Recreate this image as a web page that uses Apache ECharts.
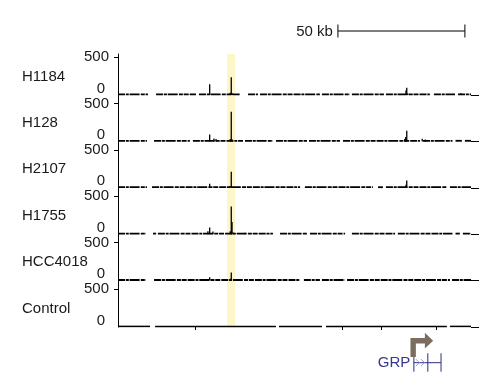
<!DOCTYPE html>
<html><head><meta charset="utf-8">
<script src="https://cdn.jsdelivr.net/npm/echarts@6/dist/echarts.min.js"></script>
<style>html,body{margin:0;padding:0;background:#fff}#c{width:484px;height:391px}</style>
</head><body><div id="c"></div>
<script>
// ---------------- data ----------------
const tracks = ['H1184', 'H128', 'H2107', 'H1755', 'HCC4018', 'Control'];
const yTickValues = [0, 500];
const xRangeKb = [0, 139];
const highlightKb = [42.9, 46.1];
const scaleBarKb = [86.6, 50];          // start, length
const scaleBarLabel = '50 kb';
const geneName = 'GRP';
const geneStartKb = 116.5;
const geneEndKb = 127.2;
const geneBoundsKb = [116.5, 122.0, 127.2];
const geneChevronsKb = [118.1, 120.1];
const controlTicksKb = [30.3, 88.2, 103.5, 125.2];

// peaks: [position kb, signal]
const peaksH1184 = [[36.1, 140], [44.2, 28], [44.6, 233], [45.0, 22], [113.4, 60], [113.7, 96], [114.1, 20], [135.0, 22]];
const peaksH128 = [[36.1, 92], [37.8, 38], [38.6, 30], [44.2, 30], [44.6, 390], [45.0, 26], [112.9, 30], [113.3, 57], [113.7, 140], [119.8, 35], [121.0, 25]];
const peaksH2107 = [[36.1, 53], [44.2, 25], [44.6, 210], [113.4, 40], [113.7, 96]];
const peaksH1755 = [[35.4, 40], [36.1, 88], [37.4, 35], [44.2, 40], [44.6, 364], [44.9, 160], [45.3, 22], [50.0, 18]];
const peaksHCC4018 = [[36.1, 45], [44.3, 25], [44.6, 105]];
const peaksControl = [];

// gaps in the baseline signal: [from kb, to kb]
const gapsH1184 = [[11.8, 15.0], [30.7, 31.9], [48.0, 51.2], [55.1, 55.9], [79.5, 80.3], [91.3, 92.1], [104.7, 105.5], [122.8, 124.4], [132.7, 133.9]];
const gapsH128 = [[11.4, 14.2], [28.3, 29.5], [49.2, 50.0], [61.0, 62.2], [74.4, 75.2], [87.4, 88.6], [118.9, 120.1], [131.7, 132.9], [135.4, 136.6]];
const gapsH2107 = [[11.4, 13.4], [71.7, 73.6], [100.4, 102.4], [104.3, 105.5], [129.5, 130.7]];
const gapsH1755 = [[11.0, 13.8], [15.0, 15.7], [61.0, 63.8], [74.4, 75.6], [89.4, 92.1], [109.1, 110.2], [131.7, 132.9], [134.6, 135.8]];
const gapsHCC4018 = [[11.0, 14.2], [71.7, 73.2], [79.5, 80.3], [89.4, 90.2], [130.7, 131.5]];
const gapsControl = [[12.6, 14.6], [62.2, 63.4], [80.3, 81.9], [129.5, 130.7]];

const peaks = [peaksH1184, peaksH128, peaksH2107, peaksH1755, peaksHCC4018, peaksControl];
const gaps = [gapsH1184, gapsH128, gapsH2107, gapsH1755, gapsHCC4018, gapsControl];

// ---------------- layout / style ----------------
const FONT = "'Liberation Sans', Arial, sans-serif";
const FS = 15;
const TXT = '#1a1a1a';
const LEFT = 118, RIGHT = 13;
const firstBase = 95, step = 46.4, px500 = 38, firstTop = 54;

function segmentsFrom(g) {
  const segs = [];
  let cur = xRangeKb[0];
  g.forEach(([a, b]) => { if (a > cur) segs.push([cur, a]); cur = b; });
  if (cur < xRangeKb[1]) segs.push([cur, xRangeKb[1]]);
  return segs;
}

const grid = [], xAxis = [], yAxis = [], series = [];
tracks.forEach((name, i) => {
  const base = firstBase + step * i;
  const top = i === 0 ? firstTop : firstBase + step * (i - 1);
  const h = base - top;
  const ymax = 500 * h / px500;
  grid.push({ left: LEFT, right: RIGHT, top: top, height: h });
  const isCtl = name === 'Control';
  xAxis.push({
    gridIndex: i, type: 'value', min: xRangeKb[0], max: xRangeKb[1],
    axisLine: { show: false }, splitLine: { show: false }, axisLabel: { show: false },
    axisTick: isCtl ? { show: true, customValues: controlTicksKb, length: 3, lineStyle: { color: '#000', width: 1 } } : { show: false }
  });
  yAxis.push({
    gridIndex: i, type: 'value', min: 0, max: ymax,
    axisLine: { show: true, lineStyle: { color: '#000', width: 1 } },
    axisTick: { show: true, customValues: [500], length: 4, lineStyle: { color: '#000', width: 1 } },
    splitLine: { show: false },
    axisLabel: {
      customValues: yTickValues, margin: 9,
      formatter: v => v === 0 ? '{z|0}' : '{f|' + v + '}',
      rich: {
        z: { fontSize: FS, fontFamily: FONT, color: TXT, padding: [0, 4, 13, 0] },
        f: { fontSize: FS, fontFamily: FONT, color: TXT }
      }
    }
  });
  yAxis.push({
    gridIndex: i, type: 'value', min: 0, max: ymax,
    axisLine: { show: false }, splitLine: { show: false }, axisLabel: { show: false },
    axisTick: { show: true, customValues: [0], length: 8, lineStyle: { color: '#000', width: 1 } }
  });
  // highlight band
  series.push({
    type: 'custom', xAxisIndex: i, yAxisIndex: 2 * i, z: 1, silent: true,
    data: [highlightKb],
    renderItem: (params, api) => {
      const p1 = api.coord([api.value(0), ymax]);
      const p2 = api.coord([api.value(1), 0]);
      return { type: 'rect', shape: { x: p1[0], y: p1[1], width: p2[0] - p1[0], height: p2[1] - p1[1] },
        style: { fill: '#fcf6c9' } };
    }
  });
  // track name, vertically centred on the 0..500 range
  series.push({
    type: 'custom', xAxisIndex: i, yAxisIndex: 2 * i, z: 5, silent: true, clip: false,
    data: [[xRangeKb[0], 250]],
    renderItem: (params, api) => {
      const p = api.coord([api.value(0), api.value(1)]);
      return { type: 'text', x: p[0] - 96, y: p[1] + 0.5,
        style: { text: name, align: 'left', verticalAlign: 'middle', fontSize: FS, fontFamily: FONT, fill: TXT } };
    }
  });
  // baseline signal
  series.push({
    type: 'custom', xAxisIndex: i, yAxisIndex: 2 * i, z: 3, silent: true, clip: false,
    data: segmentsFrom(gaps[i]),
    renderItem: (params, api) => {
      const p1 = api.coord([api.value(0), 0]);
      const p2 = api.coord([api.value(1), 0]);
      return { type: 'line', shape: { x1: p1[0], y1: p1[1] - 0.6, x2: p2[0], y2: p2[1] - 0.6 },
        style: { stroke: '#000', lineWidth: isCtl ? 1.5 : 1.8, lineDash: isCtl ? null : [7, 0.8, 3, 0.8, 10, 1.2, 4, 0.8, 5, 1] } };
    }
  });
  // peaks
  series.push({
    type: 'bar', xAxisIndex: i, yAxisIndex: 2 * i, z: 4, silent: true,
    barWidth: 1.3, data: peaks[i], itemStyle: { color: '#000' }
  });
});

// scale bar grid
grid.push({ left: LEFT, right: RIGHT, top: 20, height: 22 });
xAxis.push({ gridIndex: 6, type: 'value', min: xRangeKb[0], max: xRangeKb[1], show: false });
yAxis.push({ gridIndex: 6, type: 'value', min: -1, max: 1, show: false });
series.push({
  type: 'custom', xAxisIndex: 6, yAxisIndex: yAxis.length - 1, silent: true, clip: false,
  data: [scaleBarKb],
  renderItem: (params, api) => {
    const s = api.value(0), l = api.value(1);
    const p1 = api.coord([s, 0]), p2 = api.coord([s + l, 0]);
    const st = { stroke: '#000', lineWidth: 1 };
    return { type: 'group', children: [
      { type: 'line', shape: { x1: p1[0], y1: p1[1], x2: p2[0], y2: p2[1] }, style: st },
      { type: 'line', shape: { x1: p1[0], y1: p1[1] - 6.5, x2: p1[0], y2: p1[1] + 6.5 }, style: st },
      { type: 'line', shape: { x1: p2[0], y1: p2[1] - 6.5, x2: p2[0], y2: p2[1] + 6.5 }, style: st },
      { type: 'text', x: p1[0] - 5, y: p1[1] + 0.5, style: { text: scaleBarLabel, align: 'right', verticalAlign: 'middle',
        fontSize: FS, fontFamily: FONT, fill: TXT } }
    ] };
  }
});

// gene annotation grid
grid.push({ left: LEFT, right: RIGHT, top: 342.7, height: 40 });
xAxis.push({ gridIndex: 7, type: 'value', min: xRangeKb[0], max: xRangeKb[1], show: false });
yAxis.push({ gridIndex: 7, type: 'value', min: -1, max: 1, show: false });
series.push({
  type: 'custom', xAxisIndex: 7, yAxisIndex: yAxis.length - 1, silent: true, clip: false,
  data: [[geneStartKb, geneEndKb]],
  renderItem: (params, api) => {
    const a = api.coord([api.value(0), 0]), b = api.coord([api.value(1), 0]);
    const y0 = a[1], xs = a[0];
    const navy = '#2d2d80';
    const children = [
      { type: 'line', shape: { x1: a[0], y1: y0, x2: b[0], y2: y0 }, style: { stroke: navy, lineWidth: 1 } }
    ];
    geneBoundsKb.forEach(v => {
      const p = api.coord([v, 0]);
      children.push({ type: 'line', shape: { x1: p[0], y1: y0 - 9.5, x2: p[0], y2: y0 + 9 }, style: { stroke: navy, lineWidth: 1 } });
    });
    geneChevronsKb.forEach(v => {
      const p = api.coord([v, 0]);
      children.push({ type: 'polyline', shape: { points: [[p[0] - 2, y0 - 3.5], [p[0] + 1.5, y0], [p[0] - 2, y0 + 3.5]] },
        style: { stroke: '#8f9cd6', lineWidth: 1, fill: null } });
    });
    // TSS arrow
    children.push({ type: 'polyline', shape: { points: [[xs - 0.7, y0 - 5.7], [xs - 0.7, y0 - 22], [xs + 12.5, y0 - 22]] },
      style: { stroke: '#7b6e60', lineWidth: 5.4, fill: null, lineJoin: 'miter', lineCap: 'butt' } });
    children.push({ type: 'polygon', shape: { points: [[xs + 11, y0 - 30], [xs + 19.3, y0 - 22], [xs + 11, y0 - 14.3]] },
      style: { fill: '#7b6e60' } });
    children.push({ type: 'text', x: xs - 3.5, y: y0, style: { text: geneName, align: 'right', verticalAlign: 'middle',
      fontSize: FS, fontFamily: FONT, fill: '#38388c' } });
    return { type: 'group', children };
  }
});

const chart = echarts.init(document.getElementById('c'), null, { renderer: 'canvas' });
chart.setOption({ animation: false, backgroundColor: '#fff', grid, xAxis, yAxis, series });
</script>
</body></html>
